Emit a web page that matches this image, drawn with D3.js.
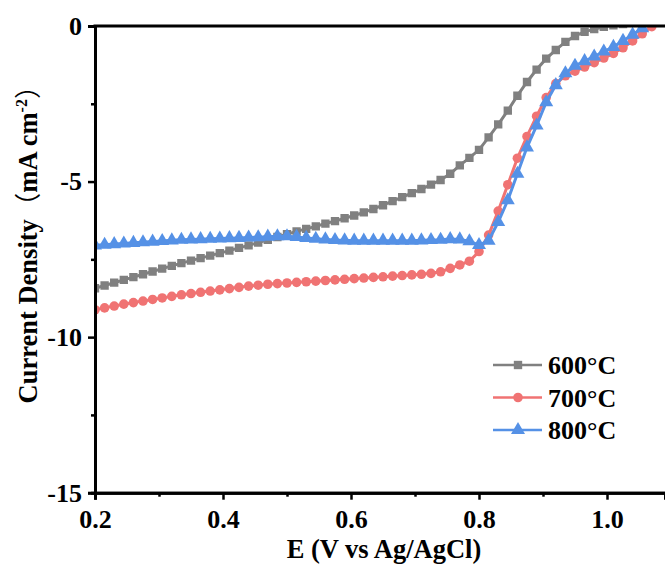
<!DOCTYPE html>
<html>
<head>
<meta charset="utf-8">
<script src="https://cdn.jsdelivr.net/npm/d3@7"></script>
<style>
  body { margin: 0; background: #fff; }
  text { font-family: "Times New Roman", "Liberation Serif", serif; font-weight: bold; }
</style>
</head>
<body>
<script>
var w = 665;
var h = 568;

// potential (V vs Ag/AgCl), shared by all three curves
var potential = [0.200, 0.215, 0.230, 0.245, 0.260, 0.275, 0.290, 0.305, 0.320, 0.335,
    0.350, 0.365, 0.380, 0.395, 0.410, 0.425, 0.440, 0.455, 0.470, 0.485,
    0.500, 0.515, 0.530, 0.545, 0.560, 0.575, 0.590, 0.605, 0.620, 0.635,
    0.650, 0.665, 0.680, 0.695, 0.710, 0.725, 0.740, 0.755, 0.770, 0.785,
    0.800, 0.815, 0.830, 0.845, 0.860, 0.875, 0.890, 0.905, 0.920, 0.935,
    0.950, 0.965, 0.980, 0.995, 1.010, 1.025, 1.040, 1.055, 1.070];

var j600 = [-8.43, -8.34, -8.25, -8.16, -8.07, -7.98, -7.89, -7.80, -7.71, -7.62,
    -7.54, -7.46, -7.38, -7.30, -7.22, -7.13, -7.05, -6.96, -6.87, -6.78,
    -6.69, -6.60, -6.52, -6.44, -6.35, -6.27, -6.18, -6.09, -5.99, -5.88,
    -5.76, -5.63, -5.50, -5.37, -5.24, -5.10, -4.95, -4.75, -4.48, -4.24,
    -3.98, -3.58, -3.16, -2.72, -2.24, -1.80, -1.40, -1.05, -0.77, -0.51,
    -0.32, -0.19, -0.10, -0.03, 0.02, 0.06, 0.10, 0.14, 0.18];

var j700 = [-9.12, -9.06, -9.00, -8.94, -8.89, -8.84, -8.79, -8.74, -8.69, -8.64,
    -8.60, -8.56, -8.52, -8.48, -8.44, -8.40, -8.36, -8.33, -8.30, -8.28,
    -8.26, -8.24, -8.22, -8.20, -8.18, -8.16, -8.14, -8.12, -8.10, -8.08,
    -8.06, -8.04, -8.02, -8.00, -7.98, -7.95, -7.90, -7.79, -7.68, -7.56,
    -7.25, -6.72, -5.95, -5.10, -4.25, -3.55, -2.90, -2.30, -1.85, -1.60,
    -1.45, -1.32, -1.18, -1.03, -0.88, -0.70, -0.48, -0.25, -0.02];

var j800 = [-7.05, -7.03, -7.01, -6.99, -6.97, -6.95, -6.93, -6.91, -6.89, -6.87,
    -6.86, -6.85, -6.84, -6.83, -6.82, -6.81, -6.80, -6.79, -6.77, -6.76,
    -6.76, -6.78, -6.81, -6.84, -6.86, -6.88, -6.89, -6.90, -6.90, -6.90,
    -6.90, -6.90, -6.90, -6.90, -6.89, -6.88, -6.87, -6.85, -6.86, -6.92,
    -7.04, -6.90, -6.30, -5.60, -4.75, -3.90, -3.20, -2.45, -1.90, -1.52,
    -1.28, -1.13, -0.98, -0.82, -0.67, -0.48, -0.28, -0.07];

var names = ["600\u00b0C", "700\u00b0C", "800\u00b0C"];
var colors = ["#808080", "#f07373", "#5591e6"];
var symbols = [d3.symbolSquare, d3.symbolCircle, d3.symbolTriangle];

var xTicks = [0.2, 0.4, 0.6, 0.8, 1.0];
var xMinor = [0.3, 0.5, 0.7, 0.9];
var yTicks = [-15, -10, -5, 0];
var yMinor = [-12.5, -7.5, -2.5];

var pLeft = 95, pTop = 26, pRight = 665, pBottom = 492.7;

var x = d3.scaleLinear().domain([0.2, 0.2 + (pRight - pLeft) / 640]).range([pLeft, pRight]);
var y = d3.scaleLinear().domain([-15, 0]).range([pBottom, pTop]);

var svg = d3.select("body").append("svg")
    .attr("width", w)
    .attr("height", h);

svg.append("defs").append("clipPath").attr("id", "plot")
    .append("rect")
    .attr("x", pLeft).attr("y", pTop)
    .attr("width", pRight - pLeft).attr("height", pBottom - pTop);

var series = [j600, j700, j800].map(function (vals, i) {
    return {
        name: names[i], color: colors[i], symbol: symbols[i],
        points: vals.map(function (v, k) { return [potential[k], v]; })
    };
});

var line = d3.line()
    .x(function (d) { return x(d[0]); })
    .y(function (d) { return y(d[1]); });

function symSize(s) {
    if (s === d3.symbolTriangle) return 85;
    if (s === d3.symbolCircle) return 72;
    return 70;
}

var plot = svg.append("g").attr("clip-path", "url(#plot)");

series.forEach(function (s) {
    var g = plot.append("g");
    g.append("path")
        .attr("d", line(s.points))
        .attr("fill", "none")
        .attr("stroke", s.color)
        .attr("stroke-width", 3);
    g.selectAll("path.m")
        .data(s.points)
        .enter()
        .append("path")
        .attr("class", "m")
        .attr("d", d3.symbol().type(s.symbol).size(symSize(s.symbol)))
        .attr("transform", function (d) { return "translate(" + x(d[0]) + "," + y(d[1]) + ")"; })
        .attr("fill", s.color);
});

// axes
var xAxis = svg.append("g")
    .attr("transform", "translate(0," + pBottom + ")")
    .call(d3.axisBottom(x).tickValues(xTicks).tickSize(7).tickPadding(10)
        .tickFormat(d3.format(".1f")));
var xAxisMinor = svg.append("g")
    .attr("transform", "translate(0," + pBottom + ")")
    .call(d3.axisBottom(x).tickValues(xMinor).tickSize(4).tickFormat(""));
var yAxis = svg.append("g")
    .attr("transform", "translate(" + pLeft + ",0)")
    .call(d3.axisLeft(y).tickValues(yTicks).tickSize(7).tickPadding(6)
        .tickFormat(function (d) { return d === 0 ? "0" : "-" + Math.abs(d); }));
var yAxisMinor = svg.append("g")
    .attr("transform", "translate(" + pLeft + ",0)")
    .call(d3.axisLeft(y).tickValues(yMinor).tickSize(4).tickFormat(""));

[xAxis, xAxisMinor, yAxis, yAxisMinor].forEach(function (a) {
    a.select(".domain").attr("stroke", "#000").attr("stroke-width", 3);
    a.selectAll(".tick line").attr("stroke", "#000").attr("stroke-width", 2.5);
    a.selectAll(".tick text")
        .attr("font-size", 26)
        .attr("fill", "#000")
        .style("font-family", "\"Times New Roman\", \"Liberation Serif\", serif")
        .style("font-weight", "bold");
});

svg.append("line")
    .attr("x1", pLeft - 1.5).attr("x2", pRight)
    .attr("y1", pTop).attr("y2", pTop)
    .attr("stroke", "#000").attr("stroke-width", 3);

// axis titles
svg.append("text")
    .attr("x", 384)
    .attr("y", 558)
    .attr("text-anchor", "middle")
    .attr("font-size", 26.5)
    .text("E (V vs Ag/AgCl)");

var yt = svg.append("text")
    .attr("transform", "translate(37,238) rotate(-90)")
    .attr("text-anchor", "middle")
    .attr("font-size", 26.5);
yt.append("tspan").text("Current Density");
yt.append("tspan").style("font-family", "\"Noto Sans CJK SC\", sans-serif").style("font-weight", "normal").text("\uff08");
yt.append("tspan").text("mA cm");
yt.append("tspan").attr("dy", -10).attr("font-size", 16).text("-2");
yt.append("tspan").attr("dy", 10).style("font-family", "\"Noto Sans CJK SC\", sans-serif").style("font-weight", "normal").text("\uff09");

// legend
var legend = svg.append("g");
series.forEach(function (s, i) {
    var cy = 365 + i * 32.5;
    legend.append("line")
        .attr("x1", 493).attr("x2", 542)
        .attr("y1", cy).attr("y2", cy)
        .attr("stroke", s.color).attr("stroke-width", 2.5);
    legend.append("path")
        .attr("d", d3.symbol().type(s.symbol).size(symSize(s.symbol)))
        .attr("transform", "translate(518," + cy + ")")
        .attr("fill", s.color);
    legend.append("text")
        .attr("x", 548)
        .attr("y", cy + 9)
        .attr("font-size", 26)
        .text(s.name);
});
</script>
</body>
</html>
